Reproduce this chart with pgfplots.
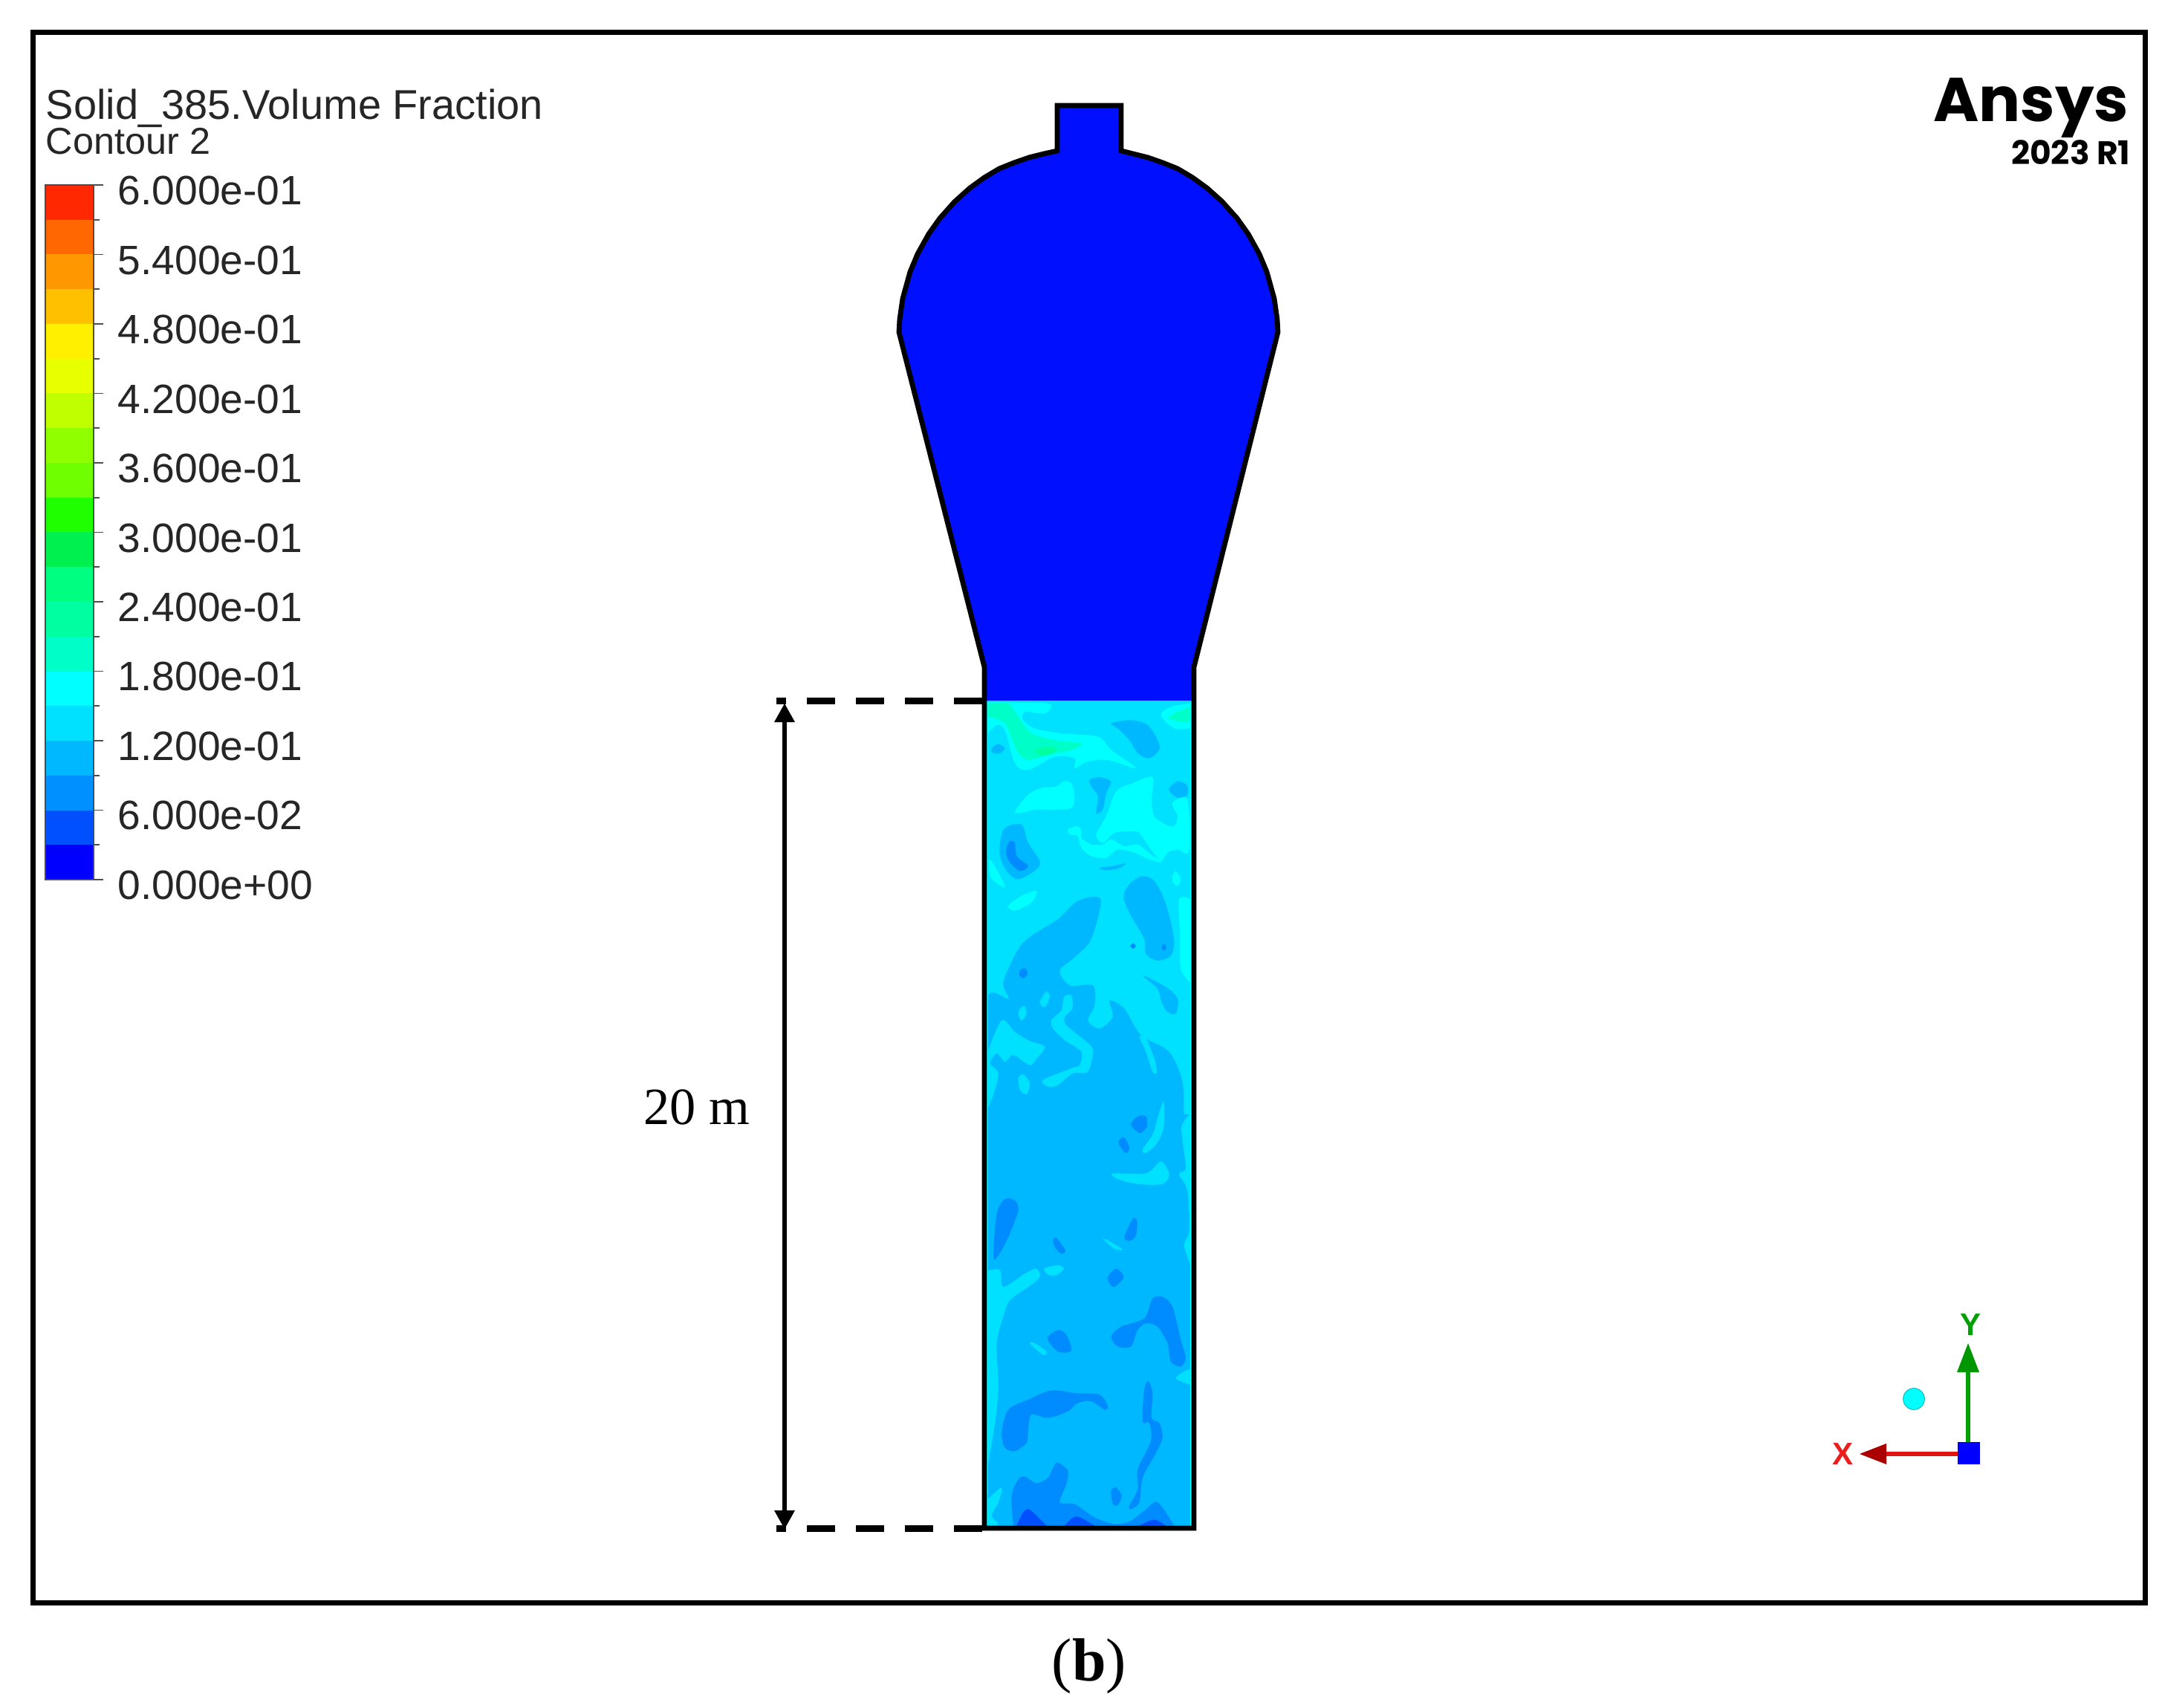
\documentclass[border=0pt]{standalone}
\usepackage{pgfplots}
\pgfplotsset{compat=1.18}
\usepackage{fontspec}
\setmainfont{Liberation Sans}
\newfontfamily\timesf{Liberation Serif}
\newfontfamily\popf{Poppins}
\definecolor{Lone}{HTML}{0010FF}
\definecolor{Ltwo}{HTML}{0050FF}
\definecolor{Lthree}{HTML}{008CFF}
\definecolor{Lfour}{HTML}{00B8FF}
\definecolor{Lfive}{HTML}{00E0FF}
\definecolor{Lsix}{HTML}{00FFFF}
\definecolor{Lseven}{HTML}{00FFC8}
\definecolor{Leight}{HTML}{00FFA0}
\definecolor{triadg}{RGB}{0,160,0}
\definecolor{triadgd}{RGB}{0,150,0}
\definecolor{triadr}{RGB}{225,20,20}
\definecolor{triadrd}{RGB}{170,0,0}
\definecolor{triadt}{RGB}{235,30,30}
\pgfplotsset{
  zA/.style={x filter/.expression={1000+x/2.24}, y filter/.expression={880+y/2.24}},
  zB/.style={x filter/.expression={1000+x/2.24}, y filter/.expression={1500+y/2.24}},
}
% blobs read in the coordinates of the two enlarged crops
\newcommand\blobA[2]{\addplot[zA,draw=none,fill=#1,smooth cycle] coordinates {#2};}
\newcommand\blobB[2]{\addplot[zB,draw=none,fill=#1,smooth cycle] coordinates {#2};}
% patches that touch a wall: closed by a straight line along it
\newcommand\wallA[2]{\addplot[zA,draw=none,fill=#1,smooth] coordinates {#2} -- cycle;}
\newcommand\wallB[2]{\addplot[zB,draw=none,fill=#1,smooth] coordinates {#2} -- cycle;}
\newcommand\poly[2]{\addplot[draw=none,fill=#1] coordinates {#2} -- cycle;}
\newcommand\seg[3]{\addplot[#1,line cap=butt] coordinates {#2 #3};}
\newcommand\lab[2]{\node[anchor=west,inner sep=0pt,text=black!85] at (158,#1) {\fontsize{13.8}{14}\selectfont #2};}
\definecolor{Ba}{HTML}{0000FF}
\definecolor{Bb}{HTML}{0050FF}
\definecolor{Bc}{HTML}{0090FF}
\definecolor{Bd}{HTML}{00B8FF}
\definecolor{Be}{HTML}{00E0FF}
\definecolor{Bf}{HTML}{00FFFF}
\definecolor{Bg}{HTML}{00FFC8}
\definecolor{Bh}{HTML}{00FFA0}
\definecolor{Bi}{HTML}{00FF80}
\definecolor{Bj}{HTML}{00F050}
\definecolor{Bk}{HTML}{20FF00}
\definecolor{Bl}{HTML}{70FF00}
\definecolor{Bm}{HTML}{90FF00}
\definecolor{Bn}{HTML}{C0FF00}
\definecolor{Bo}{HTML}{E8FF00}
\definecolor{Bp}{HTML}{FFF000}
\definecolor{Bq}{HTML}{FFC000}
\definecolor{Br}{HTML}{FF9800}
\definecolor{Bs}{HTML}{FF6800}
\definecolor{Bt}{HTML}{FF2800}
\newcommand\bandc[3]{\addplot[draw=none,fill=#1] coordinates {(61,#2) (126,#2) (126,#3) (61,#3)} -- cycle;}
\begin{document}
\begin{tikzpicture}
\begin{axis}[
  width=727.5pt, height=574.75pt, scale only axis, hide axis,
  xmin=0, xmax=2910, ymin=0, ymax=2299, y dir=reverse, clip=false]
% canvas and frame
\addplot[draw=none,fill=white] coordinates {(0,0) (2910,0) (2910,2299) (0,2299)} -- cycle;
\addplot[black,line width=1.75pt] coordinates {(44.5,44) (2887,44) (2887,2157) (44.5,2157)} -- cycle;
% colour bar
\bandc{Ba}{1137.2}{1184}
\bandc{Bb}{1090.5}{1137.2}
\bandc{Bc}{1043.8}{1090.5}
\bandc{Bd}{997}{1043.8}
\bandc{Be}{950.2}{997}
\bandc{Bf}{903.5}{950.2}
\bandc{Bg}{856.8}{903.5}
\bandc{Bh}{810}{856.8}
\bandc{Bi}{763.2}{810}
\bandc{Bj}{716.5}{763.2}
\bandc{Bk}{669.8}{716.5}
\bandc{Bl}{623}{669.8}
\bandc{Bm}{576.2}{623}
\bandc{Bn}{529.5}{576.2}
\bandc{Bo}{482.8}{529.5}
\bandc{Bp}{436}{482.8}
\bandc{Bq}{389.2}{436}
\bandc{Br}{342.5}{389.2}
\bandc{Bs}{295.8}{342.5}
\bandc{Bt}{249}{295.8}
\addplot[black!70,line width=0.4pt] coordinates {(61,249) (126,249) (126,1184) (61,1184)} -- cycle;
\seg{black!70,line width=0.4pt}{(126,249)}{(139,249)}
\seg{black!70,line width=0.4pt}{(126,295.8)}{(134,295.8)}
\seg{black!70,line width=0.4pt}{(126,342.5)}{(139,342.5)}
\seg{black!70,line width=0.4pt}{(126,389.2)}{(134,389.2)}
\seg{black!70,line width=0.4pt}{(126,436)}{(139,436)}
\seg{black!70,line width=0.4pt}{(126,482.8)}{(134,482.8)}
\seg{black!70,line width=0.4pt}{(126,529.5)}{(139,529.5)}
\seg{black!70,line width=0.4pt}{(126,576.2)}{(134,576.2)}
\seg{black!70,line width=0.4pt}{(126,623)}{(139,623)}
\seg{black!70,line width=0.4pt}{(126,669.8)}{(134,669.8)}
\seg{black!70,line width=0.4pt}{(126,716.5)}{(139,716.5)}
\seg{black!70,line width=0.4pt}{(126,763.2)}{(134,763.2)}
\seg{black!70,line width=0.4pt}{(126,810)}{(139,810)}
\seg{black!70,line width=0.4pt}{(126,856.8)}{(134,856.8)}
\seg{black!70,line width=0.4pt}{(126,903.5)}{(139,903.5)}
\seg{black!70,line width=0.4pt}{(126,950.2)}{(134,950.2)}
\seg{black!70,line width=0.4pt}{(126,997)}{(139,997)}
\seg{black!70,line width=0.4pt}{(126,1043.8)}{(134,1043.8)}
\seg{black!70,line width=0.4pt}{(126,1090.5)}{(139,1090.5)}
\seg{black!70,line width=0.4pt}{(126,1137.2)}{(134,1137.2)}
\seg{black!70,line width=0.4pt}{(126,1184)}{(139,1184)}
\node[anchor=base west,inner sep=0pt,text=black!85] at (61,161) {\fontsize{14}{15}\selectfont Solid\_385.Volume Fraction};
\node[anchor=base west,inner sep=0pt,text=black!85] at (61,208) {\fontsize{12.6}{13}\selectfont Contour 2};
\lab{257}{6.000e-01}
\lab{350.4}{5.400e-01}
\lab{443.8}{4.800e-01}
\lab{537.2}{4.200e-01}
\lab{630.6}{3.600e-01}
\lab{724}{3.000e-01}
\lab{817.4}{2.400e-01}
\lab{910.8}{1.800e-01}
\lab{1004.2}{1.200e-01}
\lab{1097.6}{6.000e-02}
\lab{1191}{0.000e+00}
% vessel: gas
\poly{Lone}{(1423,142) (1509,142) (1509,203) (1525,207) (1545,212) (1565,219) (1585,227) (1605,238.9) (1625,253.4) (1645,271.4) (1665,293.8) (1680,314.9) (1695,341.9) (1705,365.8) (1715,401.8) (1719,429.4) (1720,447) (1607,898) (1607,2057) (1325,2057) (1325,898) (1210,447) (1211,429.4) (1215,401.8) (1225,365.8) (1235,341.9) (1250,314.9) (1265,293.8) (1285,271.4) (1305,253.4) (1325,238.9) (1345,227) (1365,219) (1385,212) (1405,207) (1423,203)}
% solid bed
\poly{Lfive}{(1325,943) (1607,943) (1607,2057) (1325,2057)}
\poly{Lfour}{(1328,1500) (1604,1500) (1604,2055) (1328,2055)}
\wallA{Lfour}{(738,1560) (738,1300) (738,1035) (800,1040) (785,990) (830,890) (870,850) (950,800) (1010,745) (1078,740) (1050,860) (1000,915) (955,955) (985,1000) (1055,1000) (1060,1060) (1040,1105) (1075,1130) (1115,1095) (1105,1045) (1150,1070) (1200,1150) (1285,1200) (1325,1290) (1330,1400) (1340,1560)}
% upper patches
\wallA{Lsix}{(738,146) (920,150) (910,180) (850,175) (845,200) (880,225) (960,240) (1070,250) (1110,290) (1185,345) (1100,320) (1040,325) (1000,345) (1000,315) (940,310) (860,350) (820,330) (790,230) (765,215) (738,240)}
\wallA{Lseven}{(738,150) (800,150) (830,190) (870,240) (940,260) (1020,270) (990,290) (920,305) (860,320) (825,290) (790,210) (738,190)}
\blobA{Leight}{(880,290) (930,280) (945,290) (920,305) (895,305)}
\wallA{Lsix}{(1348,150) (1290,160) (1260,185) (1300,225) (1348,225)}
\wallA{Lseven}{(1348,160) (1300,180) (1285,195) (1320,205) (1348,205)}
\blobA{Lfour}{(1110,210) (1170,200) (1220,215) (1250,260) (1255,290) (1225,315) (1190,300) (1165,260) (1130,225)}
\blobA{Lfour}{(750,285) (770,272) (790,285) (775,300) (752,298)}
\blobA{Lfour}{(1045,380) (1075,372) (1110,385) (1095,420) (1085,470) (1065,480) (1070,430) (1050,400)}
\blobA{Lfour}{(1285,405) (1310,385) (1338,395) (1340,425) (1315,435) (1290,420)}
\blobA{Lsix}{(820,475) (860,425) (900,405) (945,400) (965,385) (990,390) (1000,435) (990,465) (940,470) (880,470) (840,480)}
\blobA{Lsix}{(1065,545) (1095,490) (1125,415) (1175,390) (1235,372) (1232,440) (1240,490) (1275,515) (1300,520) (1310,490) (1295,450) (1340,440) (1345,595) (1310,590) (1280,600) (1260,625) (1230,590) (1195,540) (1170,535) (1120,540) (1085,570)}
\blobA{Lsix}{(980,530) (1005,520) (1020,530) (1020,555) (1050,575) (1085,575) (1110,560) (1150,580) (1190,575) (1230,605) (1265,630) (1225,620) (1180,600) (1130,590) (1095,615) (1050,610) (1020,585) (1010,550) (985,545)}
\blobA{Lfour}{(775,570) (790,525) (840,515) (860,570) (895,625) (885,650) (830,680) (795,655) (775,610)}
\blobA{Lthree}{(795,585) (805,565) (820,570) (825,610) (860,640) (835,655) (810,635) (795,610)}
\blobA{Lfour}{(1075,645) (1115,640) (1155,632) (1130,648) (1090,652)}
\blobA{Lsix}{(745,620) (790,700) (770,695) (745,670)}
\blobA{Lsix}{(800,760) (840,730) (885,715) (870,750) (820,775)}
\blobA{Lsix}{(1295,670) (1305,655) (1320,680) (1310,700) (1297,690)}
\wallA{Lsix}{(1348,990) (1320,950) (1318,850) (1315,740) (1348,740)}
\blobA{Lfour}{(1150,720) (1170,690) (1205,670) (1240,685) (1270,740) (1290,810) (1300,870) (1290,910) (1250,925) (1215,905) (1210,860) (1170,790) (1150,745)}
\blobA{Lthree}{(1268,875) (1277,885) (1268,895) (1262,885)}
\blobA{Lthree}{(1176,873) (1185,881) (1176,889) (1168,881)}
\blobA{Lfour}{(1205,970) (1240,985) (1290,1015) (1312,1045) (1305,1085) (1280,1080) (1262,1050) (1250,1010)}
\blobA{Lthree}{(835,955) (850,948) (858,965) (845,978) (833,970)}
\blobA{Lfive}{(895,1050) (915,1018) (925,1035) (910,1065)}
\blobA{Lfive}{(832,1075) (848,1062) (855,1085) (842,1105) (832,1095)}
\blobA{Lfive}{(930,1105) (960,1075) (968,1035) (990,1030) (993,1070) (970,1095) (975,1120) (1030,1165) (1055,1195) (1040,1260) (995,1265) (950,1300) (920,1305) (905,1285) (990,1250) (1015,1240) (1020,1200) (970,1165) (935,1130)}
\wallA{Lfive}{(738,1200) (780,1105) (820,1140) (860,1165) (910,1185) (885,1220) (865,1240) (815,1210) (790,1230) (765,1205) (745,1235) (770,1265) (755,1330) (738,1370)}
\blobA{Lfive}{(830,1280) (845,1268) (865,1295) (855,1328) (835,1315)}
\blobA{Lfive}{(1195,1155) (1215,1160) (1240,1220) (1248,1262) (1235,1260) (1215,1200)}
\blobA{Lthree}{(1170,1420) (1190,1395) (1215,1395) (1218,1425) (1197,1445)}
\blobA{Lthree}{(1132,1470) (1150,1458) (1165,1490) (1155,1505) (1140,1490)}
\blobA{Lfive}{(1205,1495) (1235,1450) (1250,1400) (1268,1350) (1268,1430) (1245,1480) (1215,1505)}
% lower patches
\blobB{Lfive}{(1115,178) (1215,178) (1260,142) (1285,180) (1265,210) (1190,210) (1130,195)}
\wallB{Lfive}{(1348,0) (1322,40) (1335,160) (1315,180) (1340,230) (1345,350) (1330,395) (1348,450)}
\blobB{Lthree}{(755,430) (765,300) (790,255) (820,260) (830,290) (800,370) (770,425)}
\blobB{Lthree}{(935,378) (945,372) (972,410) (960,420) (940,400)}
\blobB{Lthree}{(1150,370) (1175,315) (1188,320) (1185,365) (1165,382)}
\blobB{Lthree}{(1100,490) (1125,465) (1148,490) (1120,520) (1105,510)}
\blobB{Lfive}{(1085,375) (1110,385) (1145,408) (1120,405)}
\blobB{Lfive}{(908,465) (950,455) (968,465) (945,485) (920,483)}
\wallB{Lfive}{(738,470) (775,470) (785,520) (850,480) (885,465) (895,490) (860,520) (805,560) (785,610) (765,690) (770,820) (760,930) (738,1060)}
\blobB{Lthree}{(1110,670) (1140,640) (1210,615) (1235,555) (1265,550) (1295,580) (1320,680) (1335,735) (1320,760) (1290,745) (1280,690) (1250,640) (1215,630) (1190,650) (1170,700) (1130,700)}
\blobB{Lfive}{(865,690) (880,690) (915,715) (905,725)}
\blobB{Lthree}{(918,675) (950,650) (975,665) (990,712) (950,715)}
\wallB{Lfive}{(1348,815) (1305,795) (1340,770) (1348,770)}
\blobB{Lthree}{(780,960) (800,890) (860,860) (930,832) (1000,840) (1075,845) (1100,880) (1090,890) (1050,865) (1010,870) (980,895) (920,915) (870,905) (860,950) (855,990) (820,1015) (790,1005)}
\blobB{Lthree}{(1205,925) (1210,830) (1222,805) (1235,840) (1232,915) (1255,930) (1265,975) (1240,1030) (1205,1095) (1195,1170) (1170,1190) (1165,1180) (1190,1130) (1190,1070) (1230,985) (1225,930)}
\blobB{Lthree}{(1110,1135) (1125,1125) (1142,1150) (1130,1178) (1115,1175)}
\wallB{Lthree}{(815,1240) (810,1150) (830,1100) (850,1092) (885,1112) (920,1095) (945,1050) (980,1075) (975,1115) (955,1170) (1000,1175) (1060,1215) (1120,1235) (1170,1225) (1215,1190) (1245,1168) (1268,1190) (1300,1240)}
\wallB{Ltwo}{(825,1240) (845,1200) (865,1192) (915,1240)}
\wallB{Ltwo}{(970,1240) (1005,1212) (1060,1240)}
\wallB{Ltwo}{(1195,1240) (1240,1222) (1275,1240)}
\wallB{Lfive}{(738,1160) (780,1125) (770,1170) (750,1210) (770,1235) (738,1240)}
% thin wall layers
\addplot[color=Lsix,line width=0.7pt] coordinates {(1329,945) (1329,2055)};
\addplot[color=Lsix,line width=0.7pt] coordinates {(1603,945) (1603,2055)};
% vessel outline
\addplot[black,line width=1.7pt,line join=miter] coordinates {(1423,142) (1509,142) (1509,203) (1525,207) (1545,212) (1565,219) (1585,227) (1605,238.9) (1625,253.4) (1645,271.4) (1665,293.8) (1680,314.9) (1695,341.9) (1705,365.8) (1715,401.8) (1719,429.4) (1720,447) (1607,898) (1607,2057) (1325,2057) (1325,898) (1210,447) (1211,429.4) (1215,401.8) (1225,365.8) (1235,341.9) (1250,314.9) (1265,293.8) (1285,271.4) (1305,253.4) (1325,238.9) (1345,227) (1365,219) (1385,212) (1405,207) (1423,203)} -- cycle;
% dimension
\addplot[black,line width=2.25pt,dash pattern=on 9.6pt off 6.9pt] coordinates {(1322,943) (1045,943)};
\addplot[black,line width=2.25pt,dash pattern=on 9.6pt off 6.9pt] coordinates {(1322,2057) (1045,2057)};
\addplot[black,line width=1.6pt] coordinates {(1056,965) (1056,2040)};
\poly{black}{(1056,947) (1070,972) (1042,972)}
\poly{black}{(1056,2058) (1070,2033) (1042,2033)}
\node[inner sep=0pt] at (938,1490) {\fontsize{17.6}{18}\selectfont\timesf 20 m};
\node[inner sep=0pt] at (1466,2243) {\fontsize{20.5}{21}\selectfont\timesf (\textbf{b})};
% logo
\node[anchor=base east,inner sep=0pt] at (2866,164) {\fontsize{20.8}{22}\selectfont\popf\bfseries Ansys};
\node[anchor=base east,inner sep=0pt] at (2868,222) {\fontsize{11}{12}\selectfont\popf\bfseries 2023 R1};
% triad
\addplot[only marks,mark=square*,mark size=3.5pt,color=Ba] coordinates {(2650,1956)};
\addplot[only marks,mark=*,mark size=3.6pt,color=Lsix,mark options={draw=Lsix!70!black,line width=0.2pt}] coordinates {(2576,1883)};
\addplot[color=triadg,line width=1.5pt] coordinates {(2649,1957) (2649,1845)};
\poly{triadgd}{(2649,1808) (2664,1847) (2634,1847)}
\addplot[color=triadr,line width=1.5pt] coordinates {(2648,1957) (2536,1957)};
\poly{triadrd}{(2503,1957) (2539,1943) (2539,1971)}
\node[inner sep=0pt,text=triadg] at (2652,1783) {\fontsize{10.5}{11}\selectfont\bfseries Y};
\node[inner sep=0pt,text=triadt] at (2480,1957) {\fontsize{10.5}{11}\selectfont\bfseries X};
\end{axis}
\end{tikzpicture}
\end{document}
